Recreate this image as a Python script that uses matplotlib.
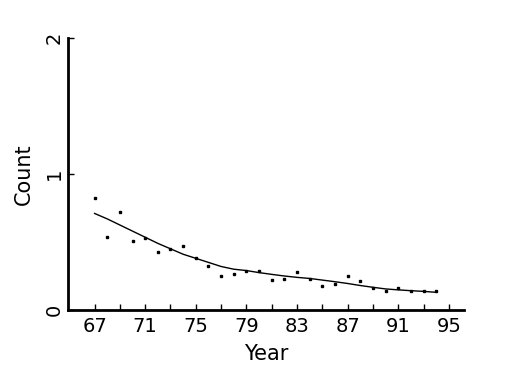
import matplotlib
matplotlib.use("Agg")
import matplotlib.pyplot as plt

years = [67, 68, 69, 70, 71, 72, 73, 74, 75, 76, 77, 78, 79, 80,
         81, 82, 83, 84, 85, 86, 87, 88, 89, 90, 91, 92, 93, 94]
counts = [0.82, 0.54, 0.72, 0.51, 0.53, 0.43, 0.45, 0.47, 0.38, 0.32, 0.25, 0.265, 0.29, 0.29,
          0.22, 0.23, 0.28, 0.23, 0.18, 0.19, 0.25, 0.21, 0.16, 0.14, 0.16, 0.14, 0.14, 0.14]
smooth = [0.71, 0.67, 0.625, 0.58, 0.535, 0.49, 0.45, 0.41, 0.38, 0.35, 0.32, 0.30, 0.29, 0.275,
          0.262, 0.25, 0.24, 0.232, 0.22, 0.208, 0.195, 0.18, 0.167, 0.155, 0.148, 0.142, 0.137, 0.13]
xticks_major = [67, 71, 75, 79, 83, 87, 91, 95]
xticks_minor = [69, 73, 77, 81, 85, 89, 93]
yticks = [0, 1, 2]

plt.rcParams['font.family'] = ['DejaVu Sans']

fig = plt.figure(figsize=(5.25, 3.75), dpi=100)
ax = fig.add_axes([68/525, 1-310/375, (464-68)/525, (310-38)/375])

ax.plot(years, counts, linestyle='none', marker='s', markersize=2.0, color='black')
ax.plot(years, smooth, color='black', linewidth=1.0)

ax.set_xlim(64.9, 96.2)
ax.set_ylim(0, 2)
ax.set_xticks(xticks_major)
ax.set_xticks(xticks_minor, minor=True)
ax.set_yticks(yticks)
ax.set_xticklabels([str(v) for v in xticks_major], fontsize=14)
ax.set_yticklabels([str(v) for v in yticks], fontsize=14, rotation=90, va='center')

ax.tick_params(axis='both', which='both', direction='in', length=4, width=1, color='black')
ax.tick_params(axis='x', pad=5)
ax.tick_params(axis='y', pad=3)

for s in ['top', 'right']:
    ax.spines[s].set_visible(False)
for s in ['left', 'bottom']:
    ax.spines[s].set_linewidth(2)

ax.set_xlabel('Year', fontsize=15, labelpad=6)
ax.set_ylabel('Count', fontsize=15, labelpad=8)

fig.savefig('out.png', dpi=100, facecolor='white')
